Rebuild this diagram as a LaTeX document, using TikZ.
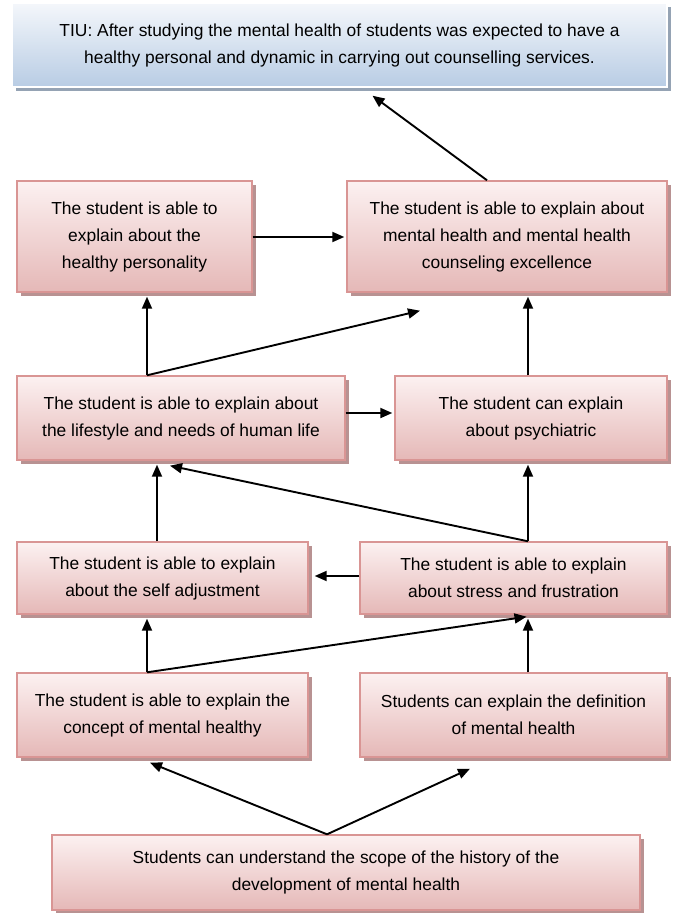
\documentclass[tikz,border=0pt]{standalone}
\usepackage{fontspec}
\setmainfont{Liberation Sans}
\usepackage{tikz}
\usetikzlibrary{calc,arrows.meta,shadows}
\definecolor{pinkline}{HTML}{D99594}
\definecolor{pinktop}{HTML}{FCF1F1}
\definecolor{pinkbot}{HTML}{E5B8B7}
\definecolor{pinkshade}{HTML}{B89292}
\definecolor{bluetop}{HTML}{F4F7FB}
\definecolor{bluebot}{HTML}{B8CCE4}
\definecolor{blueshade}{HTML}{95A3B4}
\tikzset{
  goal/.style={draw=pinkline, line width=1.4pt, top color=pinktop, bottom color=pinkbot,
    drop shadow={shadow xshift=3.5pt, shadow yshift=-3.5pt, fill=pinkshade, opacity=1},
    align=center, inner sep=0pt, font=\fontsize{17.4}{27}\selectfont},
  tiubox/.style={goal, draw=white, top color=bluetop, bottom color=bluebot,
    drop shadow={shadow xshift=3.5pt, shadow yshift=-3.5pt, fill=blueshade, opacity=1}},
  arr/.style={draw=black, line width=1.9pt, -{Triangle[length=12pt,width=10pt]}},
}
\begin{document}
\begin{tikzpicture}[x=1pt,y=-1pt]
  \useasboundingbox (0,0) rectangle (675,913);
  \node[tiubox, minimum width=655pt, minimum height=84pt] (tiu) at (339.5,45)
    {TIU: After studying the mental health of students was expected to have a\\healthy personal and dynamic in carrying out counselling services.};
  \node[goal, minimum width=235pt, minimum height=111pt] (pers) at (134.5,236.5)
    {The student is able to\\explain about the\\healthy personality};
  \node[goal, minimum width=320pt, minimum height=111pt] (excel) at (507,236.5)
    {The student is able to explain about\\mental health and mental health\\counseling excellence};
  \node[goal, minimum width=328pt, minimum height=84pt] (life) at (181,418)
    {The student is able to explain about\\the lifestyle and needs of human life};
  \node[goal, minimum width=272pt, minimum height=84pt] (psych) at (531,418)
    {The student can explain\\about psychiatric};
  \node[goal, minimum width=291pt, minimum height=72pt] (adjust) at (162.5,578)
    {The student is able to explain\\about the self adjustment};
  \node[goal, minimum width=307pt, minimum height=72pt] (stress) at (513.5,578)
    {The student is able to explain\\about stress and frustration};
  \node[goal, minimum width=291pt, minimum height=84pt] (concept) at (162.5,715)
    {The student is able to explain the\\concept of mental healthy};
  \node[goal, minimum width=307pt, minimum height=84pt] (defin) at (513.5,715)
    {Students can explain the definition\\of mental health};
  \node[goal, minimum width=588pt, minimum height=75pt] (scope) at (346,872.5)
    {Students can understand the scope of the history of the\\development of mental health};

  % connectors
  \draw[arr] ([xshift=-19pt]scope.north) -- ([xshift=-12.5pt,yshift=-5pt]concept.south);
  \draw[arr] ([xshift=-19pt]scope.north) -- ([xshift=-43.5pt,yshift=-11pt]defin.south);
  \draw[arr] ([xshift=-15.5pt]concept.north) -- ([xshift=-15.5pt,yshift=-4pt]adjust.south);
  \draw[arr] ([xshift=-15.5pt]concept.north) -- ([xshift=13pt,yshift=-2pt]stress.south);
  \draw[arr] ([xshift=14.5pt]defin.north) -- ([xshift=14.5pt,yshift=-4pt]stress.south);
  \draw[arr] ([yshift=2pt]stress.west) -- ([xshift=6pt,yshift=2pt]adjust.east);
  \draw[arr] ([xshift=-5.5pt]adjust.north) -- ([xshift=-24pt,yshift=-4pt]life.south);
  \draw[arr] ([xshift=14.5pt]stress.north) -- ([xshift=-3pt,yshift=-4pt]psych.south);
  \draw[arr] ([xshift=14.5pt]stress.north) -- ([xshift=-11pt,yshift=-5pt]life.south);
  \draw[arr] ([yshift=5pt]life.east) -- ([xshift=-2pt,yshift=5pt]psych.west);
  \draw[arr] ([xshift=-34pt]life.north) -- ([xshift=12.5pt,yshift=-4pt]pers.south);
  \draw[arr] ([xshift=-34pt]life.north) -- ([xshift=-87pt,yshift=-18pt]excel.south);
  \draw[arr] ([xshift=-3pt]psych.north) -- ([xshift=21pt,yshift=-4pt]excel.south);
  \draw[arr] ([yshift=-0.5pt]pers.east) -- ([xshift=-2pt,yshift=-0.5pt]excel.west);
  \draw[arr] ([xshift=-20pt]excel.north) -- ([xshift=33pt,yshift=-8pt]tiu.south);
\end{tikzpicture}
\end{document}
